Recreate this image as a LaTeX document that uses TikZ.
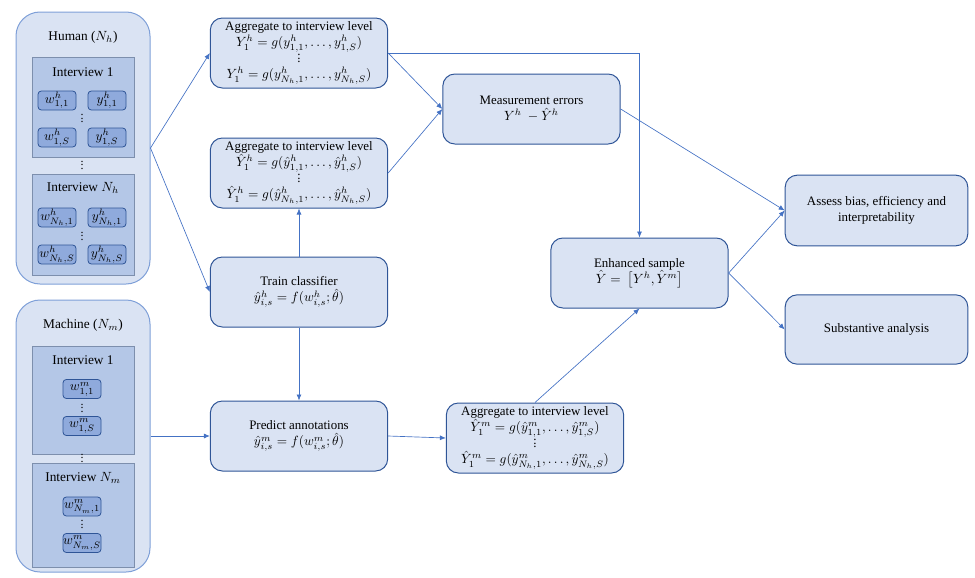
\documentclass[tikz,border=0pt]{standalone}
\usepackage{fontspec}
\setmainfont{Liberation Serif}
\usetikzlibrary{arrows.meta}
\definecolor{procfill}{HTML}{DAE3F3}
\definecolor{procborder}{HTML}{2F5597}
\definecolor{grpborder}{HTML}{7FA0D8}
\definecolor{intfill}{HTML}{B4C7E7}
\definecolor{intborder}{HTML}{7D8FAD}
\definecolor{leaffill}{HTML}{8FAADC}
\definecolor{leafborder}{HTML}{2F5597}
\definecolor{linkcol}{HTML}{4472C4}
\newcommand{\vdt}{\vbox{\baselineskip=2.6pt\lineskiplimit=-5pt\hbox{.}\hbox{.}\hbox{.}}}
\tikzset{
  proc/.style={draw=procborder, fill=procfill, rounded corners=9pt, line width=0.75pt,
    minimum width=133pt, minimum height=52.5pt, align=center, inner sep=1pt,
    font=\fontsize{9.7}{12}\selectfont},
  grp/.style={draw=grpborder, fill=procfill, rounded corners=18pt, line width=0.75pt,
    minimum width=100.5pt, minimum height=204pt},
  interv/.style={draw=intborder, fill=intfill, line width=0.75pt, minimum width=76.5pt},
  leaf/.style={draw=leafborder, fill=leaffill, rounded corners=2.5pt, line width=0.6pt,
    minimum width=28.5pt, minimum height=14.25pt, inner sep=0pt, font=\fontsize{9.7}{11}\selectfont},
  ttl/.style={font=\fontsize{10}{12}\selectfont, inner sep=0pt},
  dts/.style={inner sep=0pt, font=\fontsize{9}{10}\selectfont},
  conn/.style={draw=linkcol, line width=0.5pt, -{Latex[length=4.5pt,width=3.8pt]}}
}
\begin{document}
\begin{tikzpicture}[x=0.75pt,y=-0.75pt]
\useasboundingbox (0,0) rectangle (975,578);
% Human group
\node[grp] (human) at (83,148) {};
\node[ttl] (humt) at (83,37) {Human ($N_h$)};
\node[interv, minimum height=75pt] (hi1) at (83,107) {};
\node[ttl] (hi1t) at (83,72) {Interview 1};
\node[leaf] (hw11) at (57,100.5) {$w^h_{1,1}$};
\node[leaf] (hy11) at (107,100.5) {$y^h_{1,1}$};
\node[dts] (hd1) at (82,118.5) {\vdt};
\node[leaf] (hw1S) at (57,137.5) {$w^h_{1,S}$};
\node[leaf] (hy1S) at (107,137.5) {$y^h_{1,S}$};
\node[dts] (hdm) at (82,165) {\vdt};
\node[interv, minimum height=75.75pt] (hiN) at (83,224.5) {};
\node[ttl] (hiNt) at (83,188) {Interview $N_h$};
\node[leaf] (hwN1) at (57,217.5) {$w^h_{N_h,1}$};
\node[leaf] (hyN1) at (107,217.5) {$y^h_{N_h,1}$};
\node[dts] (hd2) at (82,236) {\vdt};
\node[leaf] (hwNS) at (57,254.5) {$w^h_{N_h,S}$};
\node[leaf] (hyNS) at (107,254.5) {$y^h_{N_h,S}$};
% Machine group
\node[grp] (mach) at (83,436) {};
\node[ttl] (macht) at (83,325) {Machine ($N_m$)};
\node[interv, minimum height=81pt] (mi1) at (83,400) {};
\node[ttl] (mi1t) at (83,360) {Interview 1};
\node[leaf] (mw11) at (82,389) {$w^m_{1,1}$};
\node[dts] (md1) at (82,408) {\vdt};
\node[leaf] (mw1S) at (82,426) {$w^m_{1,S}$};
\node[dts] (mdm) at (82,458) {\vdt};
\node[interv, minimum height=78pt] (miN) at (83,515) {};
\node[ttl] (miNt) at (83,478) {Interview $N_m$};
\node[leaf] (mwN1) at (82,506.5) {$w^m_{N_m,1}$};
\node[dts] (md2) at (82,524.5) {\vdt};
\node[leaf] (mwNS) at (82,543) {$w^m_{N_m,S}$};
% Process boxes
\node[proc] (agg1) at (299,53) {Aggregate to interview level\\
  $Y_1^h = g(y^h_{1,1},\ldots,y^h_{1,S})$\\ \vdt\\
  $Y_1^h = g(y^h_{N_h,1},\ldots,y^h_{N_h,S})$};
\node[proc] (agg2) at (299,173) {Aggregate to interview level\\
  $\hat Y_1^h = g(\hat y^h_{1,1},\ldots,\hat y^h_{1,S})$\\ \vdt\\
  $\hat Y_1^h = g(\hat y^h_{N_h,1},\ldots,\hat y^h_{N_h,S})$};
\node[proc] (train) at (299,292) {Train classifier\\ $\hat y^h_{i,s} = f(w^h_{i,s};\hat\theta)$};
\node[proc] (pred) at (299,436) {Predict annotations\\ $\hat y^m_{i,s} = f(w^m_{i,s};\hat\theta)$};
\node[proc] (meas) at (531.5,109) {Measurement errors\\ $Y^h\ -\hat Y^h$};
\node[proc] (agg3) at (535,438) {Aggregate to interview level\\
  $\hat Y_1^m = g(\hat y^m_{1,1},\ldots,\hat y^m_{1,S})$\\ \vdt\\
  $\hat Y_1^m = g(\hat y^m_{N_h,1},\ldots,\hat y^m_{N_h,S})$};
\node[proc] (enh) at (639.5,273) {Enhanced sample\\ $\hat Y =\ \bigl[Y^h,\hat Y^m\bigr]$};
\node[proc, minimum width=137pt, minimum height=53pt] (assess) at (876.5,210.5) {Assess bias, efficiency and\\ interpretability};
\node[proc, minimum width=137pt, minimum height=52pt] (subst) at (876.5,329.5) {Substantive analysis};
% Connectors
\draw[conn] (human.east) -- (agg1.west);
\draw[conn] (human.east) -- (train.west);
\draw[conn] (agg1.east) -- (meas.west);
\draw[conn] (agg2.east) -- (meas.west);
\draw[conn] (agg1.east) -| (enh.north);
\draw[conn] (train.north) -- (agg2.south);
\draw[conn] (train.south) -- (pred.north);
\draw[conn] (mach.east) -- (pred.west);
\draw[conn] (pred.east) -- (agg3.west);
\draw[conn] (agg3.north) -- (enh.south);
\draw[conn] (meas.east) -- (assess.west);
\draw[conn] (enh.east) -- (assess.west);
\draw[conn] (enh.east) -- (subst.west);
\end{tikzpicture}
\end{document}
